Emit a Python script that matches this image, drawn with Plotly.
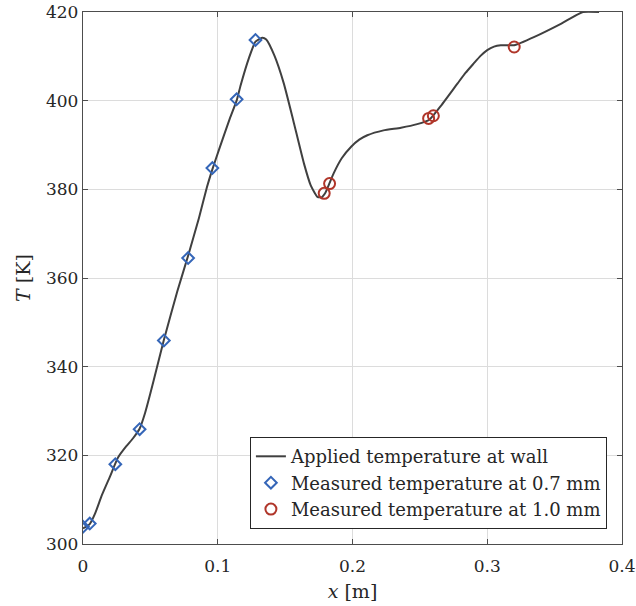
import plotly.graph_objects as go

# Applied wall temperature curve
x_wall = [0.000, 0.005, 0.009, 0.014, 0.020, 0.026, 0.032, 0.037, 0.042, 0.046, 0.050,
          0.055, 0.060, 0.070, 0.078, 0.086, 0.092, 0.096, 0.101, 0.109, 0.114, 0.117,
          0.123, 0.128, 0.133, 0.136, 0.142, 0.149, 0.156, 0.164, 0.169, 0.174, 0.177,
          0.180, 0.186, 0.192, 0.199, 0.205, 0.211, 0.223, 0.236, 0.248, 0.257, 0.265,
          0.278, 0.284, 0.290, 0.295, 0.300, 0.305, 0.310, 0.315, 0.320, 0.335, 0.355,
          0.371, 0.383]
T_wall = [303.5, 304.5, 306.9, 311.0, 315.2, 319.5, 322.0, 323.8, 326.0, 329.5, 334.0,
          340.0, 346.0, 357.0, 365.0, 373.5, 380.5, 384.5, 389.0, 396.0, 400.0, 403.5,
          409.5, 413.3, 414.2, 413.8, 410.2, 403.9, 395.6, 385.8, 380.9, 378.3, 378.2,
          379.3, 383.6, 387.0, 389.6, 391.2, 392.2, 393.3, 393.9, 394.7, 395.7, 398.6,
          403.9, 406.3, 408.4, 410.1, 411.4, 412.2, 412.5, 412.5, 412.5, 414.4, 417.4,
          420.0, 420.0]

# Measured temperature at 0.7 mm
x_07 = [0.000, 0.005, 0.024, 0.042, 0.060, 0.078, 0.096, 0.114, 0.128]
T_07 = [303.9, 304.6, 318.0, 325.9, 345.9, 364.5, 384.8, 400.3, 413.7]

# Measured temperature at 1.0 mm
x_10 = [0.179, 0.183, 0.2565, 0.260, 0.320]
T_10 = [379.1, 381.3, 396.0, 396.6, 412.1]

x_ticks = [0, 0.1, 0.2, 0.3, 0.4]
x_ticklabels = ["0", "0.1", "0.2", "0.3", "0.4"]
y_ticks = [300, 320, 340, 360, 380, 400, 420]

FONT = "DejaVu Serif"
TXT = "#262626"

fig = go.Figure()
fig.add_trace(go.Scatter(
    x=x_wall, y=T_wall, mode="lines",
    line=dict(color="#404040", width=2, shape="spline", smoothing=0.5),
    name="Applied temperature at wall"))
fig.add_trace(go.Scatter(
    x=x_07, y=T_07, mode="markers",
    marker=dict(symbol="diamond-open", size=9, color="#3566B8", line=dict(width=2, color="#3566B8")),
    name="Measured temperature at 0.7 mm"))
fig.add_trace(go.Scatter(
    x=x_10, y=T_10, mode="markers",
    marker=dict(symbol="circle-open", size=11, color="#B0362A", line=dict(width=2, color="#B0362A")),
    name="Measured temperature at 1.0 mm"))

axis_common = dict(
    showline=True, linecolor="#4d4d4d", linewidth=1.3, mirror="ticks",
    ticks="inside", ticklen=5, tickcolor="#4d4d4d", tickwidth=1,
    showgrid=True, gridcolor="#dcdcdc", gridwidth=1, zeroline=False,
    tickfont=dict(family=FONT, size=17, color=TXT), automargin=False,
)

fig.update_layout(
    width=636, height=606,
    margin=dict(l=83, r=14, t=12, b=62),
    paper_bgcolor="white", plot_bgcolor="white",
    font=dict(family=FONT, color=TXT),
    xaxis=dict(range=[0, 0.4], tickvals=x_ticks, ticktext=x_ticklabels,
               ticklabelstandoff=6,
               title=dict(text="<i>x</i> [m]", font=dict(family=FONT, size=19, color=TXT), standoff=10),
               **axis_common),
    yaxis=dict(range=[300, 420], tickvals=y_ticks,
               title=dict(text="<i>T</i> [K]", font=dict(family=FONT, size=19, color=TXT), standoff=10),
               **axis_common),
    legend=dict(x=0.972, y=0.028, xanchor="right", yanchor="bottom",
                bgcolor="white", bordercolor="#262626", borderwidth=1,
                font=dict(family=FONT, size=18, color=TXT), tracegroupgap=0),
    showlegend=True,
)

fig.write_html("out.html")
